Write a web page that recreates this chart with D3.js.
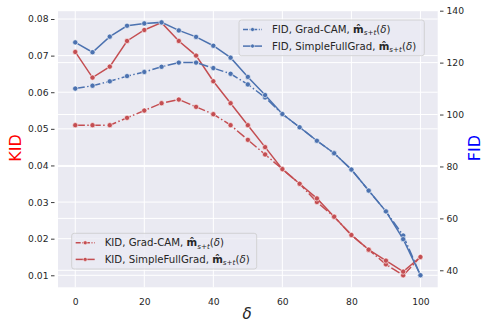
<!DOCTYPE html>
<html>
<head>
<meta charset="utf-8">
<script src="https://cdn.jsdelivr.net/npm/d3@7"></script>
<style>
  body { margin: 0; background: #fff; }
  text { font-family: "DejaVu Sans", sans-serif; }
</style>
</head>
<body>
<svg id="chart" width="482" height="322"></svg>
<script>
// delta steps
var deltas = [0, 5, 10, 15, 20, 25, 30, 35, 40, 45, 50, 55, 60, 65, 70, 75, 80, 85, 90, 95, 100];

// KID (left axis)
var kidGradCam = [0.051, 0.051, 0.051, 0.053, 0.055, 0.057, 0.058, 0.056, 0.054, 0.051, 0.047,
  0.043, 0.039, 0.035, 0.030, 0.026, 0.021, 0.017, 0.013, 0.010, 0.015];
var kidSimpleFullGrad = [0.071, 0.064, 0.067, 0.074, 0.077, 0.079, 0.074, 0.070, 0.063, 0.057, 0.051,
  0.045, 0.039, 0.035, 0.031, 0.026, 0.021, 0.017, 0.014, 0.011, 0.015];

// FID (right axis)
var fidGradCam = [110.0, 111.1, 112.8, 114.8, 116.4, 118.4, 120.0, 120.0, 117.9, 115.7, 111.6,
  106.6, 100.2, 95.1, 89.9, 85.1, 78.8, 70.7, 62.7, 53.4, 38.1];
var fidSimpleFullGrad = [127.8, 124.0, 130.0, 134.2, 135.1, 135.5, 132.4, 129.9, 126.5, 121.9, 114.5,
  107.5, 100.2, 95.1, 89.9, 85.1, 78.8, 70.7, 62.7, 52.0, 38.1];

var xTicks = [0, 20, 40, 60, 80, 100];
var kidTicks = [0.01, 0.02, 0.03, 0.04, 0.05, 0.06, 0.07, 0.08];
var fidTicks = [40, 60, 80, 100, 120, 140];

var RED = "#C44E52", BLUE = "#4C72B0";
var DASHDOT = "9.6,2.4,1.5,2.4";

var svg = d3.select("#chart");
var L = 58, R = 437.7, T = 10.8, B = 287.3;

var x = d3.scaleLinear().domain([-5, 105]).range([L, R]);
var yL = d3.scaleLinear().domain([0.00672, 0.08224]).range([B, T]);
var yR = d3.scaleLinear().domain([33.45, 139.96]).range([B, T]);

svg.append("rect")
  .attr("x", L).attr("y", T)
  .attr("width", R - L).attr("height", B - T)
  .attr("fill", "#EAEAF2");

var grid = svg.append("g").attr("stroke", "#fff").attr("stroke-width", 1);
xTicks.forEach(function (d) {
  grid.append("line").attr("x1", x(d)).attr("x2", x(d)).attr("y1", T).attr("y2", B);
});
kidTicks.forEach(function (d) {
  grid.append("line").attr("x1", L).attr("x2", R).attr("y1", yL(d)).attr("y2", yL(d));
});
fidTicks.forEach(function (d) {
  grid.append("line").attr("x1", L).attr("x2", R).attr("y1", yR(d)).attr("y2", yR(d));
});

// axes
var axL = svg.append("g")
  .attr("transform", "translate(54.5,0)")
  .call(d3.axisLeft(yL).tickValues(kidTicks).tickFormat(d3.format(".2f")).tickSize(3.5).tickPadding(2.5));
var axR = svg.append("g")
  .attr("transform", "translate(440,0)")
  .call(d3.axisRight(yR).tickValues(fidTicks).tickSize(3.5).tickPadding(3));
var axB = svg.append("g")
  .attr("transform", "translate(0," + B + ")")
  .call(d3.axisBottom(x).tickValues(xTicks).tickSize(0).tickPadding(11));
[axL, axR, axB].forEach(function (a) {
  a.select(".domain").remove();
  a.selectAll("line").attr("stroke", "#262626").attr("stroke-width", 0.9);
  a.selectAll("text").attr("fill", "#262626").style("font-size", "9.2px")
    .style("font-family", "'DejaVu Sans', sans-serif");
});

// axis titles
svg.append("text")
  .attr("transform", "translate(21,148) rotate(-90)")
  .attr("text-anchor", "middle")
  .attr("fill", "#FF0000")
  .style("font-size", "16px")
  .text("KID");
svg.append("text")
  .attr("transform", "translate(479.5,148) rotate(-90)")
  .attr("text-anchor", "middle")
  .attr("fill", "#0000FF")
  .style("font-size", "16px")
  .text("FID");
svg.append("text")
  .attr("x", 247).attr("y", 318.5)
  .attr("text-anchor", "middle")
  .attr("fill", "#262626")
  .style("font-size", "15px")
  .style("font-style", "italic")
  .text("δ");

function series(vals, yScale, color, dash) {
  var line = d3.line()
    .x(function (d, i) { return x(deltas[i]); })
    .y(function (d) { return yScale(d); });
  var g = svg.append("g");
  g.append("path")
    .attr("d", line(vals))
    .attr("fill", "none")
    .attr("stroke", color)
    .attr("stroke-width", 1.5)
    .attr("stroke-dasharray", dash);
  g.selectAll("circle").data(vals).enter().append("circle")
    .attr("cx", function (d, i) { return x(deltas[i]); })
    .attr("cy", function (d) { return yScale(d); })
    .attr("r", 2.6)
    .attr("fill", color)
    .attr("stroke", "#fff")
    .attr("stroke-width", 0.6);
}

series(kidGradCam, yL, RED, DASHDOT);
series(kidSimpleFullGrad, yL, RED, null);

function legend(x0, y0, w, h, items) {
  var g = svg.append("g");
  g.append("rect")
    .attr("x", x0).attr("y", y0).attr("width", w).attr("height", h)
    .attr("rx", 2.5)
    .attr("fill", "#EAEAF2").attr("fill-opacity", 0.8)
    .attr("stroke", "#CCCCCC").attr("stroke-width", 0.8);
  items.forEach(function (it, i) {
    var cy = y0 + 9.5 + i * 16.6;
    g.append("line")
      .attr("x1", x0 + 4).attr("x2", x0 + 23).attr("y1", cy).attr("y2", cy)
      .attr("stroke", it.color).attr("stroke-width", 1.5)
      .attr("stroke-dasharray", it.dash ? "5,1.6,1,1.6" : null);
    g.append("circle").attr("cx", x0 + 13.5).attr("cy", cy).attr("r", 2)
      .attr("fill", it.color).attr("stroke", "#fff").attr("stroke-width", 0.5);
    var t = g.append("text")
      .attr("x", x0 + 33).attr("y", cy + 3.6)
      .attr("fill", "#262626")
      .style("font-size", "10.2px");
    t.append("tspan").text(it.label + ", ");
    t.append("tspan").style("font-weight", "bold").text("m\u0302");
    t.append("tspan").attr("dy", 2.2).style("font-size", "7.2px").style("font-style", "italic").text("s");
    t.append("tspan").style("font-size", "7.2px").text("+");
    t.append("tspan").style("font-size", "7.2px").style("font-style", "italic").text("t");
    t.append("tspan").attr("dy", -2.2).text("(");
    t.append("tspan").style("font-style", "italic").text("δ");
    t.append("tspan").text(")");
  });
}

legend(71.7, 233.3, 185, 35.7, [
  { label: "KID, Grad-CAM", color: RED, dash: true },
  { label: "KID, SimpleFullGrad", color: RED, dash: false }
]);

series(fidGradCam, yR, BLUE, DASHDOT);
series(fidSimpleFullGrad, yR, BLUE, null);

legend(239, 20, 185.3, 35.7, [
  { label: "FID, Grad-CAM", color: BLUE, dash: true },
  { label: "FID, SimpleFullGrad", color: BLUE, dash: false }
]);
</script>
</body>
</html>
